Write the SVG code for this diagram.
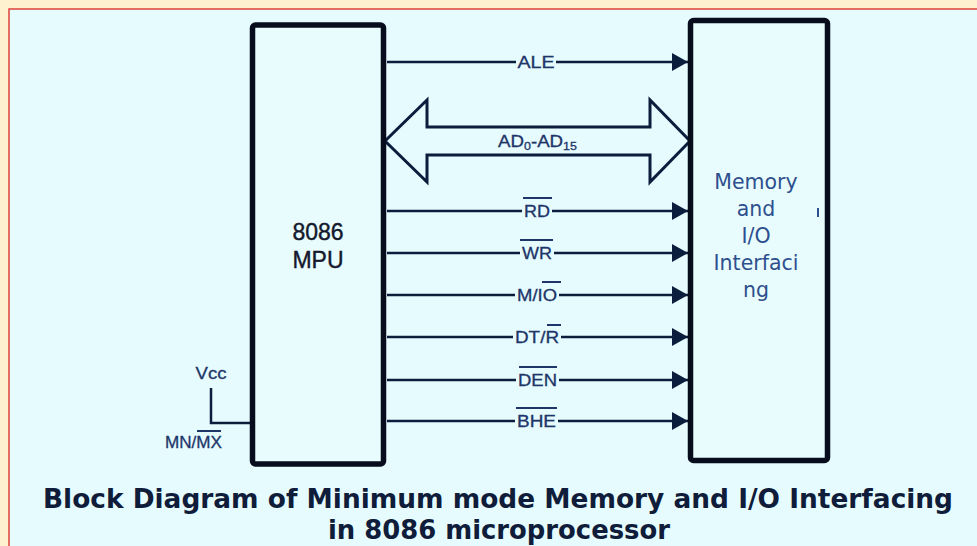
<svg xmlns="http://www.w3.org/2000/svg" width="977" height="546" viewBox="0 0 977 546">
<defs>
<style>
.box{fill:#e8fcfd;stroke:#070d1c;stroke-width:5.5}
.wire{fill:none;stroke:#0b1d3d;stroke-width:2.5}
.ol{stroke:#1d3568;stroke-width:2}
.sig{font-family:"Liberation Sans",Arial,sans-serif;font-size:16.5px;fill:#1d3568;text-anchor:middle;stroke:#1d3568;stroke-width:0.3}
.bg{fill:#e6fbfd}
.mem{font-family:"DejaVu Sans",Verdana,sans-serif;font-size:20.5px;fill:#2e4f8e;text-anchor:middle}
.mpu{font-family:"Liberation Sans",Arial,sans-serif;font-size:23px;fill:#14182c;text-anchor:middle;stroke:#14182c;stroke-width:0.4}
.title{font-family:"DejaVu Sans Condensed","DejaVu Sans",Verdana,sans-serif;font-weight:bold;font-size:26px;fill:#0f1c3a;text-anchor:middle}
</style>
<marker id="ah" markerUnits="userSpaceOnUse" markerWidth="16" markerHeight="20" refX="16" refY="10" orient="auto">
<path d="M0,1 L16,10 L0,19 Z" fill="#0b1d3d"/>
</marker>
</defs>
<rect width="977" height="546" fill="#fdf1d0"/>
<rect x="9" y="9" width="980" height="550" fill="#e6fbfd" stroke="#e0403a" stroke-width="1.5"/>

<g id="connectors">
<line class="wire" x1="387" y1="62" x2="688" y2="62" marker-end="url(#ah)"/>
<polygon points="385,141 427,100 427,127 650,127 650,100 690,141 650,182 650,155 427,155 427,182" fill="#e6fbfd" stroke="#0b1d3d" stroke-width="3" stroke-linejoin="miter"/>
<line class="wire" x1="387" y1="211" x2="688" y2="211" marker-end="url(#ah)"/>
<line class="wire" x1="387" y1="253" x2="688" y2="253" marker-end="url(#ah)"/>
<line class="wire" x1="387" y1="295" x2="688" y2="295" marker-end="url(#ah)"/>
<line class="wire" x1="387" y1="337" x2="688" y2="337" marker-end="url(#ah)"/>
<line class="wire" x1="387" y1="380" x2="688" y2="380" marker-end="url(#ah)"/>
<line class="wire" x1="387" y1="421" x2="688" y2="421" marker-end="url(#ah)"/>
<polyline class="wire" points="211,388 211,423 251,423"/>

<rect class="bg" x="516" y="53" width="40" height="18"/>
<text class="sig" x="536" y="68" textLength="37" lengthAdjust="spacingAndGlyphs">ALE</text>

<text class="sig" x="537.5" y="146.5" textLength="79" lengthAdjust="spacingAndGlyphs">AD<tspan font-size="11" dy="3">0</tspan><tspan dy="-3">-AD</tspan><tspan font-size="11" dy="3">15</tspan></text>

<rect class="bg" x="522" y="202" width="30" height="18"/>
<text class="sig" x="537" y="217" textLength="26" lengthAdjust="spacingAndGlyphs">RD</text>
<line class="ol" x1="523" y1="198" x2="552" y2="198"/>

<rect class="bg" x="520" y="244" width="34" height="18"/>
<text class="sig" x="537" y="259" textLength="30" lengthAdjust="spacingAndGlyphs">WR</text>
<line class="ol" x1="520" y1="240" x2="553" y2="240"/>

<rect class="bg" x="515" y="286" width="44" height="18"/>
<text class="sig" x="537" y="301" textLength="40" lengthAdjust="spacingAndGlyphs">M/IO</text>
<line class="ol" x1="542" y1="282" x2="561" y2="282"/>

<rect class="bg" x="513" y="328" width="48" height="18"/>
<text class="sig" x="537" y="343" textLength="44" lengthAdjust="spacingAndGlyphs">DT/R</text>
<line class="ol" x1="547" y1="325" x2="561" y2="325"/>

<rect class="bg" x="516" y="371" width="43" height="18"/>
<text class="sig" x="537.5" y="386" textLength="39" lengthAdjust="spacingAndGlyphs">DEN</text>
<line class="ol" x1="519" y1="367" x2="557" y2="367"/>

<rect class="bg" x="515" y="412" width="43" height="18"/>
<text class="sig" x="536.5" y="427" textLength="39" lengthAdjust="spacingAndGlyphs">BHE</text>
<line class="ol" x1="516" y1="408" x2="557" y2="408"/>
</g>

<g id="mpu">
<rect class="box" x="252.5" y="25" width="131" height="439" rx="3"/>
<text class="mpu" x="318" y="240">8086</text>
<text class="mpu" x="318" y="268">MPU</text>
</g>

<g id="memory">
<rect class="box" x="690.5" y="20.5" width="137" height="440" rx="3"/>
<text class="mem" x="756" y="189">Memory</text>
<text class="mem" x="756" y="216">and</text>
<text class="mem" x="756" y="243">I/O</text>
<text class="mem" x="756" y="270">Interfaci</text>
<text class="mem" x="756" y="297">ng</text>
<line x1="818" y1="208" x2="818" y2="217" stroke="#2e4f8e" stroke-width="2"/>
</g>

<g id="vcc">
<text class="sig" x="211" y="379" font-size="15" textLength="31" lengthAdjust="spacingAndGlyphs">Vcc</text>
</g>
<g id="mnmx">
<text class="sig" x="193.5" y="447.5" textLength="57" lengthAdjust="spacingAndGlyphs">MN/MX</text>
<line class="ol" x1="197" y1="431" x2="221" y2="431"/>
</g>

<g id="title">
<text class="title" x="498" y="508" textLength="910" lengthAdjust="spacingAndGlyphs">Block Diagram of Minimum mode Memory and I/O Interfacing</text>
<text class="title" x="499" y="539" textLength="342" lengthAdjust="spacingAndGlyphs">in 8086 microprocessor</text>
</g>
</svg>
